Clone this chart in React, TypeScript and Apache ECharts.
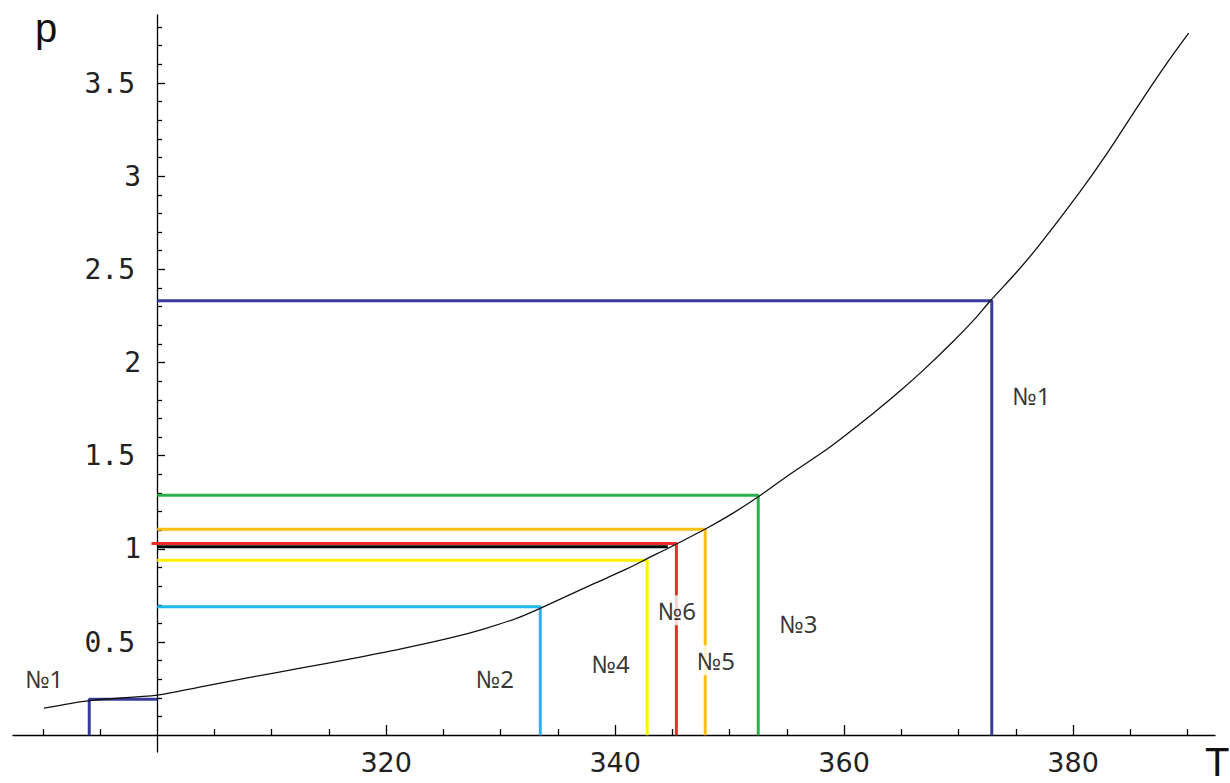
import React, { useEffect, useRef } from "react";
import * as echarts from "echarts";

// Vapour-pressure curve p(T)
const curveT = [290.1, 294.1, 300, 303.8, 308.1, 312.5, 316.9, 321.2, 325.6, 328.5, 331.5, 334.3, 338.1, 341.1, 342.8, 344.8, 348.0, 350.3, 352.7, 355.3, 358.8, 362.5, 364.9, 366.9, 369.5, 371.3, 372.8, 375.1, 377.1, 380.6, 383.0, 385.9, 388.2, 390.1];
const curveP = [0.145, 0.186, 0.215, 0.26, 0.31, 0.36, 0.41, 0.462, 0.522, 0.57, 0.63, 0.705, 0.812, 0.895, 0.948, 1.009, 1.111, 1.192, 1.288, 1.402, 1.548, 1.725, 1.848, 1.958, 2.112, 2.226, 2.333, 2.487, 2.634, 2.916, 3.125, 3.398, 3.607, 3.768];

// Experiment corners (T, p) with their guide lines
const boxT = [294.06, 333.46, 342.8, 345.35, 347.87, 352.5, 372.9];
const boxP = [0.193, 0.689, 0.939, 1.029, 1.106, 1.288, 2.331];
const boxStartT = [300, 300, 300, 299.5, 300, 300, 300];
const boxColors = ["#363c9c", "#1db8ec", "#fff200", "#ee2b2b", "#fdbf14", "#2bb24c", "#363c9c"];

// Atmospheric pressure line
const atmP = 1.012;
const atmT = [300, 344.6];

// Labels
const labelText = ["№1", "№1", "№2", "№4", "№6", "№5", "№3"];
const labelT = [376.35, 290.13, 329.5, 339.6, 345.4, 348.8, 356.0];
const labelP = [1.825, 0.306, 0.306, 0.386, 0.671, 0.403, 0.601];
const labelBoxed = [false, false, false, false, true, true, false];

// Ticks
const xMajor = [320, 340, 360, 380];
const xMinor = [290, 295, 305, 310, 315, 325, 330, 335, 345, 350, 355, 365, 370, 375, 385, 390];
const yMajor = [0.5, 1, 1.5, 2, 2.5, 3, 3.5];
const yMinor = [0.1, 0.2, 0.3, 0.4, 0.6, 0.7, 0.8, 0.9, 1.1, 1.2, 1.3, 1.4, 1.6, 1.7, 1.8, 1.9, 2.1, 2.2, 2.3, 2.4, 2.6, 2.7, 2.8, 2.9, 3.1, 3.2, 3.3, 3.4, 3.6, 3.7, 3.8];

const X_MIN = 287.4;
const X_MAX = 392.4;
const Y_MIN = -0.09;
const Y_MAX = 3.865;

export default function App() {
  const ref = useRef<HTMLDivElement>(null);
  useEffect(() => {
    if (!ref.current) return;
    const chart = echarts.init(ref.current, null, { renderer: "svg" });

    const axisLineStyle = { color: "#000", width: 1.3 };

    const series: any[] = [];
    series.push({
      type: "line",
      data: curveT.map((t, i) => [t, curveP[i]]),
      showSymbol: false,
      symbol: "none",
      smooth: 0.3,
      lineStyle: { color: "#111", width: 1.3 },
      z: 3,
    });
    boxT.forEach((t, i) => {
      series.push({
        type: "line",
        data: [
          [boxStartT[i], boxP[i]],
          [t, boxP[i]],
          [t, 0],
        ],
        symbol: "none",
        lineStyle: { color: boxColors[i], width: 3 },
        z: 2,
      });
    });
    series.push({
      type: "line",
      data: atmT.map((t) => [t, atmP]),
      symbol: "none",
      lineStyle: { color: "#000", width: 3 },
      z: 2,
    });
    series.push({
      type: "scatter",
      symbolSize: 0,
      z: 10,
      data: labelText.map((n, i) => ({
        value: [labelT[i], labelP[i]],
        label: {
          show: true,
          position: "inside",
          formatter: n,
          fontFamily: "Noto Sans",
          fontSize: 24,
          color: "#000",
          backgroundColor: labelBoxed[i] ? "#fff" : "transparent",
          padding: labelBoxed[i] ? [3, 0, 3, 0] : 0,
        },
      })),
    });

    chart.setOption({
      animation: false,
      backgroundColor: "#fff",
      grid: { left: 13, right: 15, top: 15, bottom: 31, containLabel: false },
      xAxis: [
        {
          type: "value",
          min: X_MIN,
          max: X_MAX,
          position: "bottom",
          offset: -17,
          axisLine: { show: true, lineStyle: axisLineStyle },
          splitLine: { show: false },
          axisTick: { show: true, inside: true, length: 10, customValues: xMajor, lineStyle: axisLineStyle },
          axisLabel: {
            show: true,
            customValues: xMajor,
            margin: 14,
            fontFamily: "DejaVu Sans",
            fontSize: 27,
            color: "#222",
          },
        },
        {
          type: "value",
          min: X_MIN,
          max: X_MAX,
          position: "bottom",
          offset: -17,
          axisLine: { show: false },
          splitLine: { show: false },
          axisTick: { show: true, inside: true, length: 6, customValues: xMinor, lineStyle: axisLineStyle },
          axisLabel: { show: false },
        },
      ],
      yAxis: [
        {
          type: "value",
          min: Y_MIN,
          max: Y_MAX,
          position: "left",
          offset: -144,
          axisLine: { show: true, lineStyle: axisLineStyle },
          splitLine: { show: false },
          axisTick: { show: true, inside: true, length: 8, customValues: yMajor, lineStyle: axisLineStyle },
          axisLabel: {
            show: true,
            customValues: yMajor,
            margin: 16,
            fontFamily: "DejaVu Sans Mono",
            fontSize: 28,
            color: "#222",
            formatter: (v: number) => (Number.isInteger(v) ? `{i|${v}}` : `{d|${v}}`),
            rich: {
              i: { fontFamily: "DejaVu Sans Mono", fontSize: 28, color: "#222" },
              d: { fontFamily: "DejaVu Sans Mono", fontSize: 28, color: "#222", padding: [0, 6, 0, 0] },
            },
          },
        },
        {
          type: "value",
          min: Y_MIN,
          max: Y_MAX,
          position: "left",
          offset: -144,
          axisLine: { show: false },
          splitLine: { show: false },
          axisTick: { show: true, inside: true, length: 5, customValues: yMinor, lineStyle: axisLineStyle },
          axisLabel: { show: false },
        },
      ],
      graphic: [
        {
          type: "text",
          x: 35,
          y: 8,
          style: { text: "p", font: "40px 'Liberation Sans'", fill: "#111" },
        },
        {
          type: "text",
          x: 1205,
          y: 742,
          style: { text: "T", font: "40px 'Liberation Sans'", fill: "#111" },
        },
      ],
      series,
    });
    return () => chart.dispose();
  }, []);
  return (
    <div
      ref={ref}
      style={{ position: "fixed", left: 0, top: 0, width: 1230, height: 783, background: "#fff" }}
    />
  );
}
